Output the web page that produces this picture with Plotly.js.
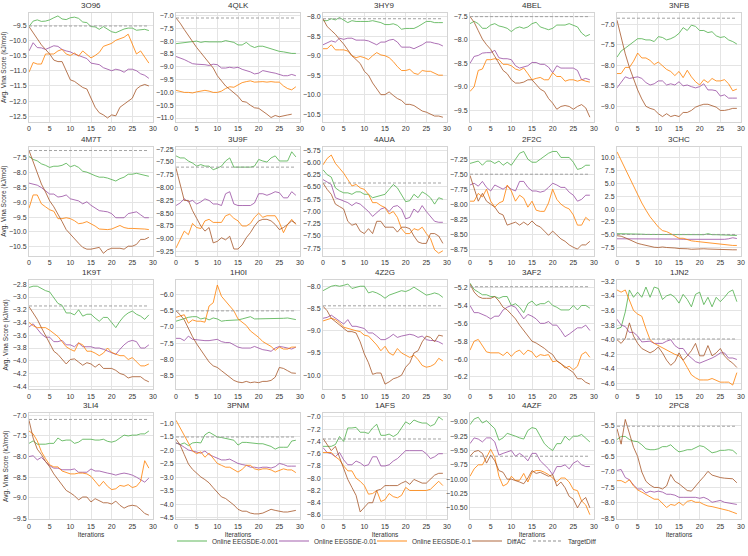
<!DOCTYPE html>
<html>
<head>
<meta charset="utf-8">
<script src="https://cdn.plot.ly/plotly-3.0.1.min.js"></script>
<style>html,body{margin:0;padding:0;background:#fff;}#chart{width:748px;height:556px;}</style>
</head>
<body>
<div id="chart"></div>
<script>
// ---------------- DATA ----------------
const iterations = [0,1,2,3,4,5,6,7,8,9,10,11,12,13,14,15,16,17,18,19,20,21,22,23,24,25,26,27,28,29];
const proteins = ['3O96','4QLK','3HY9','4BEL','3NFB','4M7T','3U9F','4AUA','2F2C','3CHC','1K9T','1H0I','4Z2G','3AF2','1JN2','3LI4','3PNM','1AFS','4AZF','2PC8'];
const seriesNames = ['Online EEGSDE-0.001','Online EEGSDE-0.01','Online EEGSDE-0.1','DiffAC','TargetDiff'];

const eegsde001 = [
 [-9.55,-9.37,-9.33,-9.38,-9.37,-9.33,-9.26,-9.2,-9.3,-9.32,-9.26,-9.24,-9.28,-9.4,-9.42,-9.55,-9.56,-9.64,-9.55,-9.65,-9.72,-9.75,-9.68,-9.63,-9.6,-9.6,-9.67,-9.65,-9.64,-9.68],
 [-8.1,-8.08,-8.05,-8.02,-8.0,-8.0,-8.05,-8.02,-8.03,-8.02,-8.02,-8.03,-7.98,-8.02,-8.05,-8.15,-8.15,-8.05,-8.18,-8.25,-8.2,-8.2,-8.25,-8.3,-8.35,-8.4,-8.42,-8.45,-8.48,-8.48],
 [-8.1,-8.1,-8.05,-8.08,-8.02,-8.08,-8.15,-8.1,-8.12,-8.12,-8.12,-8.12,-8.1,-8.12,-8.15,-8.2,-8.2,-8.18,-8.22,-8.32,-8.3,-8.3,-8.3,-8.25,-8.18,-8.12,-8.12,-8.15,-8.15,-8.15],
 [-7.65,-7.6,-7.65,-7.75,-7.75,-7.68,-7.65,-7.7,-7.72,-7.75,-7.82,-7.75,-7.72,-7.75,-7.72,-7.65,-7.62,-7.72,-7.75,-7.78,-7.75,-7.68,-7.68,-7.68,-7.65,-7.68,-7.72,-7.85,-7.92,-7.88],
 [-7.8,-7.65,-7.58,-7.5,-7.42,-7.35,-7.35,-7.38,-7.38,-7.42,-7.3,-7.32,-7.38,-7.35,-7.3,-7.22,-7.08,-7.15,-7.02,-7.05,-7.15,-7.15,-7.2,-7.18,-7.28,-7.32,-7.3,-7.38,-7.42,-7.48],
 [-7.45,-7.55,-7.6,-7.7,-7.75,-7.82,-7.78,-7.78,-7.75,-7.68,-7.8,-7.75,-7.82,-7.95,-7.98,-8.05,-8.1,-8.15,-8.15,-8.18,-8.22,-8.28,-8.2,-8.15,-8.05,-8.05,-8.02,-8.05,-8.1,-8.12],
 [-7.38,-7.42,-7.42,-7.48,-7.52,-7.58,-7.55,-7.58,-7.58,-7.65,-7.62,-7.58,-7.48,-7.42,-7.6,-7.6,-7.6,-7.6,-7.6,-7.58,-7.45,-7.48,-7.5,-7.42,-7.38,-7.48,-7.48,-7.48,-7.3,-7.4],
 [-6.15,-6.25,-6.3,-6.52,-6.58,-6.62,-6.62,-6.65,-6.6,-6.6,-6.65,-6.65,-6.72,-6.7,-6.68,-6.65,-6.55,-6.45,-6.52,-6.65,-6.8,-6.78,-6.65,-6.72,-6.6,-6.65,-6.72,-6.85,-6.72,-6.75],
 [-7.32,-7.3,-7.28,-7.35,-7.28,-7.28,-7.32,-7.28,-7.35,-7.3,-7.35,-7.25,-7.15,-7.12,-7.25,-7.3,-7.3,-7.25,-7.2,-7.15,-7.12,-7.12,-7.22,-7.22,-7.22,-7.3,-7.42,-7.4,-7.35,-7.35],
 [-4.8,-4.8,-4.85,-4.85,-4.9,-4.9,-4.9,-4.95,-4.95,-4.95,-4.95,-4.95,-5.0,-4.95,-5.0,-5.0,-4.9,-4.9,-5.0,-5.0,-5.0,-5.0,-4.8,-5.0,-5.0,-5.05,-5.1,-5.1,-5.15,-5.15],
 [-2.85,-2.83,-2.83,-2.87,-2.9,-2.92,-3.02,-3.1,-3.13,-3.25,-3.25,-3.28,-3.2,-3.3,-3.27,-3.27,-3.33,-3.38,-3.32,-3.32,-3.4,-3.48,-3.38,-3.3,-3.25,-3.22,-3.27,-3.3,-3.35,-3.28],
 [-6.82,-6.78,-6.72,-6.7,-6.68,-6.68,-6.75,-6.72,-6.78,-6.72,-6.75,-6.82,-6.8,-6.8,-6.78,-6.78,-6.75,-6.72,-6.68,-6.75,-6.75,-6.75,-6.75,-6.75,-6.75,-6.75,-6.73,-6.72,-6.75,-6.77],
 [-8.1,-8.05,-8.0,-7.98,-8.0,-7.98,-7.95,-8.05,-8.02,-8.0,-8.0,-8.15,-8.12,-8.15,-8.2,-8.27,-8.2,-8.17,-8.13,-8.1,-8.12,-8.08,-8.02,-8.08,-8.15,-8.2,-8.18,-8.15,-8.18,-8.25],
 [-5.15,-5.22,-5.25,-5.28,-5.28,-5.3,-5.3,-5.32,-5.3,-5.3,-5.4,-5.38,-5.42,-5.48,-5.38,-5.35,-5.4,-5.38,-5.38,-5.35,-5.4,-5.42,-5.45,-5.45,-5.45,-5.4,-5.45,-5.4,-5.4,-5.43],
 [-3.85,-3.83,-3.62,-3.32,-3.42,-3.35,-3.42,-3.28,-3.42,-3.28,-3.3,-3.45,-3.4,-3.38,-3.42,-3.5,-3.38,-3.45,-3.55,-3.38,-3.35,-3.52,-3.42,-3.55,-3.42,-3.48,-3.42,-3.35,-3.32,-3.48],
 [-7.68,-7.62,-7.7,-7.7,-7.7,-7.68,-7.68,-7.55,-7.62,-7.6,-7.6,-7.68,-7.65,-7.58,-7.58,-7.58,-7.6,-7.6,-7.58,-7.63,-7.65,-7.62,-7.55,-7.48,-7.5,-7.48,-7.48,-7.45,-7.45,-7.38],
 [-1.72,-1.78,-1.72,-1.82,-1.72,-1.7,-1.72,-1.42,-1.32,-1.42,-1.5,-1.52,-1.55,-1.6,-1.62,-1.8,-1.7,-1.7,-1.72,-1.75,-1.75,-1.75,-1.8,-1.85,-1.95,-1.88,-1.88,-1.88,-1.65,-1.62],
 [-7.48,-7.48,-7.48,-7.45,-7.32,-7.4,-7.18,-7.18,-7.17,-7.25,-7.25,-7.27,-7.18,-7.12,-7.3,-7.3,-7.28,-7.32,-7.28,-7.18,-7.08,-7.12,-7.05,-7.08,-7.1,-7.1,-7.15,-7.12,-7.0,-7.05],
 [-9.05,-8.95,-8.92,-9.02,-8.98,-9.05,-9.12,-9.32,-9.28,-9.2,-9.22,-9.25,-9.28,-9.3,-9.15,-9.1,-9.12,-9.25,-9.38,-9.45,-9.5,-9.38,-9.38,-9.25,-9.32,-9.25,-9.25,-9.22,-9.28,-9.35],
 [-5.95,-5.85,-5.85,-5.95,-6.0,-6.02,-6.12,-6.25,-6.28,-6.28,-6.25,-6.18,-6.18,-6.12,-6.25,-6.35,-6.32,-6.28,-6.28,-6.22,-6.15,-6.18,-6.28,-6.38,-6.35,-6.3,-6.3,-6.28,-6.3,-6.42]
];

const eegsde01 = [
 [-10.35,-10.08,-10.24,-10.25,-10.3,-10.25,-10.18,-10.2,-10.3,-10.35,-10.38,-10.45,-10.5,-10.55,-10.6,-10.75,-10.78,-10.8,-10.9,-10.95,-11.0,-10.95,-10.98,-11.05,-10.95,-10.95,-11.0,-11.1,-11.15,-11.25],
 [-8.6,-8.65,-8.72,-8.8,-8.88,-8.9,-8.9,-8.92,-8.95,-8.9,-8.92,-9.05,-9.05,-9.02,-9.05,-9.02,-9.1,-9.15,-9.2,-9.28,-9.25,-9.15,-9.2,-9.22,-9.25,-9.3,-9.35,-9.35,-9.3,-9.35],
 [-8.72,-8.68,-8.62,-8.65,-8.55,-8.58,-8.55,-8.55,-8.6,-8.6,-8.6,-8.62,-8.67,-8.72,-8.65,-8.65,-8.6,-8.58,-8.65,-8.78,-8.78,-8.78,-8.82,-8.78,-8.72,-8.65,-8.65,-8.68,-8.7,-8.75],
 [-8.5,-8.35,-8.33,-8.28,-8.27,-8.27,-8.22,-8.38,-8.4,-8.4,-8.42,-8.55,-8.6,-8.58,-8.55,-8.48,-8.48,-8.52,-8.52,-8.58,-8.7,-8.55,-8.6,-8.6,-8.6,-8.6,-8.65,-8.85,-8.82,-8.85],
 [-8.55,-8.4,-8.28,-8.32,-8.3,-8.28,-8.32,-8.42,-8.48,-8.45,-8.38,-8.38,-8.48,-8.45,-8.48,-8.4,-8.5,-8.48,-8.52,-8.55,-8.52,-8.45,-8.6,-8.6,-8.62,-8.75,-8.72,-8.8,-8.8,-8.8],
 [-8.35,-8.38,-8.42,-8.5,-8.62,-8.72,-8.72,-8.82,-8.8,-8.75,-8.88,-8.92,-8.95,-9.05,-8.98,-9.1,-9.18,-9.28,-9.3,-9.32,-9.38,-9.52,-9.52,-9.52,-9.38,-9.35,-9.32,-9.42,-9.52,-9.52],
 [-8.35,-8.3,-8.22,-8.28,-8.25,-8.32,-8.28,-8.22,-8.25,-8.32,-8.32,-8.35,-8.12,-8.08,-8.32,-8.35,-8.35,-8.35,-8.35,-8.3,-8.12,-8.12,-8.15,-8.12,-8.08,-8.1,-8.2,-8.2,-8.08,-8.15],
 [-6.35,-6.4,-6.45,-6.72,-6.75,-6.78,-6.82,-6.88,-6.82,-6.85,-6.92,-7.0,-7.1,-7.02,-6.95,-6.92,-7.0,-6.9,-6.88,-6.95,-7.15,-7.12,-6.95,-7.02,-6.88,-7.0,-7.1,-7.2,-7.22,-7.22],
 [-7.68,-7.65,-7.7,-7.62,-7.72,-7.78,-7.68,-7.72,-7.75,-7.7,-7.75,-7.78,-7.62,-7.62,-7.72,-7.78,-7.78,-7.8,-7.78,-7.72,-7.65,-7.68,-7.72,-7.72,-7.8,-7.85,-7.95,-7.92,-7.85,-7.85],
 [-5.8,-5.8,-5.75,-5.75,-5.8,-5.8,-5.75,-5.75,-5.75,-5.75,-5.75,-5.8,-5.8,-5.85,-5.85,-5.85,-5.9,-5.9,-5.95,-5.95,-6.0,-6.0,-5.95,-5.95,-5.95,-5.95,-5.9,-5.8,-5.6,-5.75],
 [-3.47,-3.42,-3.5,-3.58,-3.63,-3.63,-3.7,-3.7,-3.68,-3.75,-3.75,-3.78,-3.72,-3.78,-3.78,-3.78,-3.8,-3.8,-3.82,-3.85,-3.88,-3.9,-3.82,-3.75,-3.7,-3.68,-3.7,-3.8,-3.8,-3.75],
 [-7.35,-7.35,-7.42,-7.28,-7.38,-7.4,-7.42,-7.42,-7.42,-7.4,-7.38,-7.45,-7.48,-7.48,-7.55,-7.62,-7.65,-7.65,-7.65,-7.6,-7.65,-7.7,-7.72,-7.75,-7.65,-7.6,-7.62,-7.65,-7.68,-7.62],
 [-8.72,-8.7,-8.65,-8.72,-8.8,-8.85,-8.75,-8.9,-8.9,-8.92,-8.95,-9.05,-9.05,-9.12,-9.2,-9.2,-9.15,-9.08,-9.15,-9.12,-9.1,-9.08,-9.1,-9.15,-9.12,-9.2,-9.22,-9.22,-9.25,-9.3],
 [-5.4,-5.48,-5.48,-5.5,-5.52,-5.55,-5.52,-5.52,-5.45,-5.42,-5.4,-5.42,-5.48,-5.55,-5.5,-5.52,-5.55,-5.6,-5.6,-5.58,-5.62,-5.62,-5.68,-5.75,-5.72,-5.68,-5.65,-5.65,-5.62,-5.68],
 [-3.72,-3.8,-3.82,-3.9,-3.9,-3.95,-4.03,-4.02,-4.02,-4.05,-4.05,-4.05,-4.02,-4.0,-4.08,-4.12,-4.12,-4.2,-4.25,-4.3,-4.32,-4.3,-4.28,-4.25,-4.22,-4.18,-4.18,-4.25,-4.25,-4.27],
 [-8.0,-7.98,-8.08,-8.02,-8.12,-8.22,-8.28,-8.28,-8.32,-8.32,-8.32,-8.3,-8.38,-8.38,-8.38,-8.3,-8.35,-8.35,-8.38,-8.4,-8.42,-8.45,-8.42,-8.4,-8.42,-8.45,-8.5,-8.55,-8.62,-8.52],
 [-1.72,-1.78,-1.88,-1.98,-2.02,-2.05,-2.1,-2.02,-2.15,-2.22,-2.3,-2.35,-2.35,-2.32,-2.4,-2.48,-2.52,-2.55,-2.62,-2.62,-2.65,-2.62,-2.62,-2.65,-2.6,-2.48,-2.52,-2.58,-2.58,-2.58],
 [-7.5,-7.58,-7.6,-7.65,-7.58,-7.7,-7.78,-7.78,-7.72,-7.75,-7.8,-7.78,-7.65,-7.65,-7.8,-7.8,-7.78,-7.72,-7.68,-7.62,-7.55,-7.55,-7.55,-7.55,-7.55,-7.6,-7.68,-7.65,-7.6,-7.6],
 [-9.38,-9.28,-9.3,-9.35,-9.28,-9.28,-9.35,-9.58,-9.55,-9.52,-9.5,-9.6,-9.55,-9.6,-9.68,-9.55,-9.55,-9.68,-9.75,-9.82,-9.92,-9.78,-9.78,-9.75,-9.82,-9.72,-9.68,-9.75,-9.78,-9.78],
 [-6.95,-6.92,-7.18,-7.25,-7.42,-7.55,-7.55,-7.68,-7.62,-7.65,-7.62,-7.65,-7.72,-7.72,-7.75,-7.82,-7.82,-7.82,-7.82,-7.82,-7.85,-7.82,-7.88,-7.98,-7.95,-7.92,-7.98,-8.0,-8.02,-8.05]
];

const eegsde1 = [
 [-11.05,-10.73,-10.78,-10.78,-10.45,-10.45,-10.45,-10.35,-10.3,-10.45,-10.5,-10.42,-10.52,-10.35,-10.45,-10.58,-10.5,-10.4,-10.2,-10.15,-10.1,-10.0,-9.95,-9.9,-9.8,-10.1,-10.45,-10.35,-10.55,-10.75],
 [-9.92,-9.95,-10.0,-10.0,-10.02,-9.98,-9.95,-9.92,-9.95,-10.0,-10.0,-9.95,-9.85,-9.78,-9.8,-9.72,-9.62,-9.58,-9.55,-9.6,-9.58,-9.58,-9.6,-9.58,-9.6,-9.6,-9.75,-9.85,-9.9,-9.78],
 [-8.82,-8.82,-8.72,-8.85,-8.85,-8.85,-8.88,-9.0,-9.05,-9.02,-9.05,-9.1,-9.0,-8.92,-8.98,-9.0,-9.05,-9.15,-9.28,-9.38,-9.38,-9.35,-9.45,-9.48,-9.38,-9.4,-9.4,-9.45,-9.5,-9.5],
 [-9.1,-9.0,-8.65,-8.62,-8.42,-8.42,-8.4,-8.42,-8.52,-8.52,-8.55,-8.62,-8.65,-8.6,-8.72,-8.85,-8.82,-8.8,-8.85,-8.85,-8.7,-8.78,-8.78,-8.88,-8.85,-8.85,-8.88,-8.85,-8.88,-8.9],
 [-8.2,-8.2,-8.05,-8.05,-7.9,-7.7,-7.82,-7.82,-7.88,-7.98,-7.92,-8.0,-8.1,-8.15,-8.25,-8.15,-8.3,-8.12,-8.28,-8.4,-8.48,-8.35,-8.42,-8.32,-8.38,-8.38,-8.35,-8.45,-8.62,-8.58],
 [-9.2,-8.75,-8.75,-9.05,-9.15,-9.25,-9.3,-9.55,-9.55,-9.52,-9.55,-9.62,-9.72,-9.7,-9.65,-9.72,-9.8,-9.9,-9.92,-9.92,-9.9,-9.85,-9.78,-9.85,-9.88,-9.88,-9.88,-9.88,-9.9,-9.92],
 [-9.18,-9.02,-8.85,-8.92,-8.7,-8.78,-8.8,-8.65,-8.62,-8.68,-8.68,-8.68,-8.55,-8.52,-8.6,-8.65,-8.75,-8.75,-8.7,-8.58,-8.5,-8.58,-8.55,-8.55,-8.55,-8.68,-8.88,-8.72,-8.62,-8.72],
 [-6.05,-5.92,-5.85,-6.02,-6.12,-6.22,-6.35,-6.48,-6.45,-6.52,-6.55,-6.65,-6.82,-6.82,-6.88,-6.92,-7.05,-7.0,-7.12,-7.35,-7.45,-7.45,-7.35,-7.38,-7.32,-7.45,-7.55,-7.78,-7.85,-7.8],
 [-7.95,-7.95,-7.82,-7.88,-7.75,-7.95,-8.05,-7.98,-7.95,-7.68,-7.78,-7.95,-7.85,-7.9,-8.05,-7.95,-8.1,-8.12,-8.12,-7.98,-7.75,-7.92,-8.0,-8.05,-8.08,-8.18,-8.35,-8.35,-8.22,-8.28],
 [11.2,9.5,7.8,6.0,4.3,2.8,1.2,-0.2,-1.5,-2.5,-3.5,-4.2,-4.4,-4.8,-5.3,-5.7,-5.7,-6.0,-6.2,-6.3,-6.4,-6.5,-6.6,-6.7,-6.8,-6.9,-7.0,-7.1,-7.1,-7.1],
 [-3.4,-3.45,-3.48,-3.48,-3.48,-3.52,-3.57,-3.62,-3.7,-3.78,-3.82,-3.85,-3.72,-3.75,-3.85,-3.85,-3.88,-3.92,-3.88,-3.8,-3.87,-3.9,-3.92,-3.92,-3.98,-3.95,-4.02,-4.08,-4.08,-4.05],
 [-6.7,-6.65,-6.62,-6.88,-6.78,-6.82,-6.82,-6.85,-6.35,-6.25,-5.7,-6.05,-6.2,-6.35,-6.5,-6.75,-6.85,-6.95,-7.12,-7.22,-7.32,-7.45,-7.52,-7.6,-7.72,-7.62,-7.68,-7.68,-7.62,-7.62],
 [-8.78,-8.75,-8.72,-8.75,-8.82,-8.92,-8.95,-8.98,-9.0,-9.02,-9.1,-9.12,-9.22,-9.32,-9.45,-9.35,-9.5,-9.55,-9.4,-9.5,-9.55,-9.6,-9.55,-9.65,-9.78,-9.82,-9.8,-9.75,-9.62,-9.68],
 [-5.9,-5.8,-5.78,-5.85,-5.92,-5.93,-5.93,-5.93,-5.96,-5.92,-5.97,-5.92,-5.9,-5.95,-5.9,-5.92,-5.98,-5.95,-5.96,-5.95,-6.03,-6.02,-6.05,-6.1,-6.08,-6.12,-6.08,-5.95,-5.92,-5.98],
 [-3.32,-3.35,-3.32,-3.45,-3.6,-3.65,-3.68,-3.85,-4.0,-4.05,-4.08,-4.12,-4.15,-4.18,-4.2,-4.22,-4.28,-4.38,-4.48,-4.52,-4.55,-4.55,-4.55,-4.53,-4.55,-4.58,-4.58,-4.58,-4.62,-4.45],
 [-7.38,-7.45,-7.62,-7.88,-8.05,-8.2,-8.25,-8.25,-8.35,-8.38,-8.42,-8.42,-8.4,-8.4,-8.42,-8.48,-8.6,-8.72,-8.6,-8.72,-8.8,-8.78,-8.7,-8.72,-8.68,-8.75,-8.72,-8.6,-8.1,-8.28],
 [-0.88,-1.15,-1.4,-1.72,-2.02,-2.12,-2.05,-2.25,-2.1,-2.3,-2.48,-2.55,-2.62,-2.62,-2.7,-2.8,-2.7,-2.55,-2.55,-2.68,-2.72,-2.68,-2.68,-2.72,-2.8,-2.75,-2.68,-2.72,-2.72,-2.82],
 [-7.58,-7.58,-7.58,-7.65,-7.7,-7.8,-7.88,-7.88,-8.0,-8.05,-8.12,-8.26,-8.25,-8.2,-8.38,-8.35,-8.25,-8.3,-8.32,-8.28,-8.15,-8.2,-8.2,-8.2,-8.2,-8.2,-8.18,-8.12,-8.05,-8.12],
 [-9.95,-9.82,-9.75,-9.75,-9.62,-9.48,-9.62,-9.95,-10.12,-10.08,-9.95,-10.02,-10.02,-9.9,-10.05,-9.88,-9.85,-9.85,-9.88,-9.92,-9.98,-10.05,-9.98,-9.98,-10.05,-10.18,-10.2,-10.38,-10.45,-10.62],
 [-7.28,-7.28,-7.35,-7.25,-7.45,-7.58,-7.65,-7.72,-7.8,-7.88,-7.88,-8.0,-8.15,-8.05,-8.08,-7.98,-8.08,-7.95,-7.92,-7.98,-7.98,-8.05,-8.1,-8.12,-8.15,-8.2,-8.22,-8.25,-8.3,-8.35]
];

const diffac = [
 [-9.55,-9.75,-9.95,-10.15,-10.3,-10.45,-10.65,-10.7,-10.7,-11.0,-11.3,-11.35,-11.45,-11.55,-11.6,-11.9,-12.2,-12.38,-12.45,-12.55,-12.45,-12.48,-12.2,-12.1,-12.0,-11.9,-11.6,-11.5,-11.45,-11.5],
 [-7.1,-7.3,-7.55,-7.8,-8.05,-8.25,-8.45,-8.65,-8.85,-9.05,-9.35,-9.55,-9.75,-9.88,-10.0,-10.15,-10.35,-10.38,-10.5,-10.6,-10.62,-10.72,-10.85,-10.98,-10.9,-10.95,-10.9,-10.88,-10.85,null],
 [-8.05,-8.25,-8.35,-8.45,-8.58,-8.7,-8.85,-9.0,-9.1,-9.2,-9.4,-9.5,-9.7,-9.85,-10.0,-10.0,-9.93,-10.02,-10.1,-10.15,-10.25,-10.25,-10.28,-10.35,-10.42,-10.45,-10.5,-10.55,-10.55,-10.58],
 [-7.5,-7.62,-7.8,-7.98,-8.1,-8.2,-8.35,-8.5,-8.65,-8.72,-8.85,-8.92,-8.92,-8.9,-8.85,-8.85,-8.95,-9.05,-9.1,-9.25,-9.35,-9.48,-9.42,-9.4,-9.42,-9.48,-9.42,-9.38,-9.45,-9.65],
 [-6.9,-7.35,-7.72,-8.05,-8.35,-8.6,-8.82,-9.0,-9.05,-9.08,-9.18,-9.25,-9.18,-9.25,-9.22,-9.25,-9.15,-9.15,-9.1,-9.02,-8.98,-8.95,-8.95,-8.98,-9.02,-9.1,-9.1,-9.08,-9.05,-9.05],
 [-7.25,-7.62,-8.02,-8.38,-8.65,-8.95,-9.15,-9.38,-9.65,-9.92,-10.08,-10.25,-10.38,-10.52,-10.58,-10.58,-10.55,-10.52,-10.72,-10.6,-10.55,-10.55,-10.55,-10.58,-10.48,-10.48,-10.42,-10.25,-10.25,-10.18],
 [-7.62,-7.95,-8.25,-8.25,-8.45,-8.6,-8.75,-8.85,-8.78,-9.08,-9.05,-8.98,-9.02,-8.95,-9.2,-9.2,-9.12,-8.98,-8.88,-8.75,-8.65,-8.62,-8.62,-8.65,-8.72,-8.82,-8.78,-8.72,-8.65,-8.7],
 [-6.42,-6.55,-6.65,-6.85,-6.9,-6.95,-7.2,-7.28,-7.25,-7.4,-7.45,-7.35,-7.45,-7.2,-7.2,-7.32,-7.32,-7.32,-7.42,-7.32,-7.32,-7.35,-7.5,-7.62,-7.65,-7.65,-7.45,-7.45,-7.5,-7.65],
 [-7.52,-7.75,-7.95,-7.82,-7.95,-8.0,-8.05,-8.15,-8.18,-8.35,-8.32,-8.3,-8.35,-8.3,-8.35,-8.28,-8.35,-8.38,-8.45,-8.52,-8.45,-8.52,-8.58,-8.62,-8.68,-8.72,-8.75,-8.68,-8.68,-8.62],
 [-5.2,-5.3,-5.6,-6.0,-6.4,-6.7,-6.9,-7.1,-7.3,-7.45,-7.5,-7.4,-7.5,-7.5,-7.6,-7.7,-7.7,-7.75,-7.85,-7.8,-7.7,-7.75,-7.8,-7.85,-7.9,-7.95,-7.95,-7.95,-7.95,-7.95],
 [-3.15,-3.25,-3.35,-3.48,-3.6,-3.72,-3.85,-3.9,-3.98,-4.05,-3.98,-3.97,-4.02,-4.07,-4.03,-4.05,-4.1,-4.05,-4.12,-4.12,-4.12,-4.15,-4.2,-4.22,-4.27,-4.25,-4.25,-4.25,-4.3,-4.33],
 [-6.5,-6.62,-6.78,-7.05,-7.3,-7.52,-7.72,-7.9,-8.08,-8.2,-8.25,-8.35,-8.45,-8.55,-8.65,-8.7,-8.72,-8.68,-8.72,-8.7,-8.72,-8.68,-8.68,-8.65,-8.55,-8.25,-8.28,-8.35,-8.42,-8.43],
 [-8.45,-8.55,-8.72,-8.8,-8.88,-8.95,-9.02,-9.02,-9.05,-9.25,-9.52,-9.72,-9.98,-9.95,-9.95,-10.2,-10.15,-10.08,-10.05,-10.0,-9.82,-9.72,-9.5,-9.45,-9.25,-9.12,-9.15,-9.25,-9.1,-9.12],
 [-5.16,-5.25,-5.3,-5.32,-5.32,-5.32,-5.3,-5.35,-5.42,-5.45,-5.5,-5.55,-5.62,-5.68,-5.75,-5.8,-5.82,-5.85,-5.88,-5.92,-5.95,-6.02,-6.05,-6.08,-6.12,-6.15,-6.22,-6.22,-6.26,-6.28],
 [-4.0,-4.05,-3.98,-3.77,-3.95,-4.05,-4.12,-4.15,-4.18,-4.15,-4.1,-4.18,-4.28,-4.35,-4.3,-4.18,-4.28,-4.22,-4.15,-4.05,-4.22,-4.22,-4.08,-4.22,-4.18,-4.12,-4.22,-4.28,-4.32,-4.38],
 [-7.12,-7.55,-7.82,-7.95,-8.12,-8.25,-8.42,-8.55,-8.7,-8.82,-8.88,-8.95,-9.05,-8.98,-8.98,-9.1,-9.02,-9.08,-9.12,-9.12,-9.15,-9.08,-9.18,-9.25,-9.2,-9.18,-9.2,-9.28,-9.38,-9.42],
 [-1.58,-1.8,-2.15,-2.5,-2.7,-2.85,-2.98,-3.08,-3.2,-3.38,-3.55,-3.72,-3.78,-3.9,-4.02,-4.18,-4.25,-4.25,-4.32,-4.35,-4.35,-4.32,-4.25,-4.18,-4.22,-4.25,-4.28,-4.28,-4.25,-4.22],
 [-7.35,-7.45,-7.55,-7.48,-7.65,-7.85,-8.02,-8.15,-8.28,-8.55,-8.48,-8.4,-8.4,-8.2,-8.18,-8.12,-8.12,-8.12,-8.12,-8.08,-8.05,-8.1,-8.02,-8.05,-8.08,-8.08,-8.02,-7.95,-7.92,-7.92],
 [-9.6,-9.52,-9.5,-9.55,-9.72,-9.58,-9.68,-9.85,-9.88,-10.0,-10.0,-10.02,-10.05,-10.08,-9.98,-9.85,-9.9,-9.88,-9.92,-9.95,-9.92,-10.12,-10.05,-10.15,-10.3,-10.35,-10.5,-10.38,-10.32,-10.5],
 [-5.6,-6.1,-5.3,-5.75,-6.2,-6.5,-7.0,-7.3,-7.42,-7.5,-7.5,-7.55,-7.45,-7.08,-7.3,-7.38,-7.5,-7.6,-7.62,-7.45,-7.3,-7.15,-6.98,-7.1,-7.15,-7.18,-7.2,-7.2,-7.22,-7.35]
];

const targetdiff = [-9.53,-7.1,-8.05,-7.5,-6.85,-7.25,-7.6,-6.42,-7.5,-4.95,-3.14,-6.5,-8.44,-5.19,-3.99,-7.1,-1.5,-7.36,-9.6,-5.52];
const targetSpan = [0, 29];

// ---------------- AXIS SCALES ----------------
const yRanges = [[-12.68,-9.1],[-11.15,-6.9],[-10.7,-7.9],[-9.75,-7.42],[-9.38,-6.72],
 [-10.8,-7.12],[-9.33,-7.2],[-7.9,-5.68],[-8.86,-7.04],[-9.1,12.2],
 [-4.45,-2.74],[-8.93,-5.56],[-10.32,-7.87],[-6.34,-5.12],[-4.68,-3.19],
 [-9.52,-6.95],[-4.55,-0.62],[-8.67,-6.94],[-10.7,-8.85],[-8.53,-5.1]];
const yDticks = [0.5,0.5,0.5,0.5,0.5, 0.5,0.25,0.25,0.25,2.5, 0.2,0.5,0.5,0.2,0.2, 0.5,0.5,0.2,0.25,0.5];

// ---------------- STYLE ----------------
const W = 748, H = 556;
const colors = ['#4daf4a','#984ea3','#ff7f00','#a65628','#999999'];
const legendColors = ['rgba(77,175,74,0.45)','rgba(152,78,163,0.45)','rgba(255,127,0,0.45)','rgba(166,86,40,0.45)','rgba(153,153,153,0.55)'];
const legendLeft = [172, 274, 372, 467, 528];
const font = 'Liberation Sans, Arial, Helvetica, sans-serif';
const colLeft = [29,176,323,470,617], plotW = 124;
const rowTop = [13,148,283,417], rowBot = [123,258,393,524];

const traces = [];
const layout = {
  width: W, height: H,
  margin: {l:0, r:0, t:0, b:0},
  paper_bgcolor: '#fff', plot_bgcolor: '#fff',
  font: {family: font, size: 7, color: '#333'},
  showlegend: true,
  annotations: []
};
seriesNames.forEach((n, k) => {
  layout[k === 0 ? 'legend' : 'legend' + (k+1)] = {orientation:'h', x: legendLeft[k]/W, xanchor:'left',
    y: 1-546/H, yanchor:'middle', font:{size:6.5, color:'#333', family:font},
    bgcolor:'rgba(0,0,0,0)', borderwidth:0, itemwidth:30};
});

const allSeries = [eegsde001, eegsde01, eegsde1, diffac];

proteins.forEach((name, i) => {
  const r = Math.floor(i/5), c = i % 5;
  const ax = i === 0 ? '' : String(i+1);
  const xd = [colLeft[c]/W, (colLeft[c]+plotW)/W];
  const yd = [1 - rowBot[r]/H, 1 - rowTop[r]/H];
  const dt = yDticks[i];
  const common = {showline:true, linecolor:'#d4d4d4', linewidth:1, mirror:true,
    showgrid:true, gridcolor:'#e4e4e4', gridwidth:1, zeroline:false, ticks:'',
    tickfont:{size:7, color:'#333', family:font}};
  layout['xaxis'+ax] = Object.assign({}, common, {domain: xd, anchor:'y'+ax, range:[0,30],
    tick0:0, dtick:5,
    title: r === 3 ? {text:'Iterations', font:{size:6.5, color:'#333'}, standoff:3} : {text:''}});
  layout['yaxis'+ax] = Object.assign({}, common, {domain: yd, anchor:'x'+ax, range:yRanges[i],
    tick0:0, dtick:dt, tickformat: (dt===0.25 ? '.2f' : '.1f'),
    title: c === 0 ? {text:'Avg. Vina Score (kJ/mol)', font:{size:6.5, color:'#333'}, standoff:3} : {text:''}});
  layout.annotations.push({text:name, xref:'paper', yref:'paper', x:(xd[0]+xd[1])/2, y:yd[1],
    xanchor:'center', yanchor:'bottom', yshift:1, showarrow:false, font:{size:8, color:'#333', family:font}});

  allSeries.forEach((s, k) => {
    traces.push({type:'scatter', mode:'lines', x:iterations, y:s[i], xaxis:'x'+ax, yaxis:'y'+ax,
      name:seriesNames[k], showlegend:false, hoverinfo:'skip',
      line:{color:colors[k], width:1}, opacity:0.8});
  });
  traces.push({type:'scatter', mode:'lines', x:targetSpan, y:[targetdiff[i], targetdiff[i]],
    xaxis:'x'+ax, yaxis:'y'+ax, name:seriesNames[4], showlegend:false,
    hoverinfo:'skip', line:{color:colors[4], width:1, dash:'3px,2px'}, opacity:0.9});
});

// legend-only entries (no marks drawn)
seriesNames.forEach((n, k) => {
  traces.push({type:'scatter', mode:'lines', x:[null], y:[null], name:n,
    legend: k === 0 ? 'legend' : 'legend' + (k+1),
    showlegend:true, line:{color:legendColors[k], width:2, dash: k===4 ? '3px,2px' : 'solid'}});
});

Plotly.newPlot('chart', traces, layout, {staticPlot:true, displayModeBar:false});
</script>
</body>
</html>
